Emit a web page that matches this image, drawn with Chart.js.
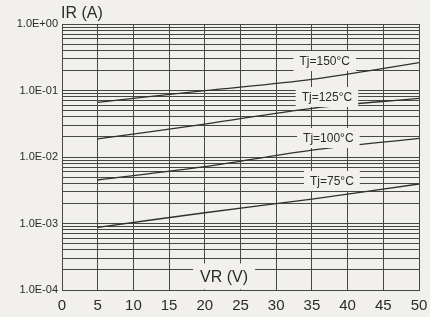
<!DOCTYPE html>
<html lang="en"><head><meta charset="UTF-8">
<title>IR vs VR</title>
<script src="https://cdn.jsdelivr.net/npm/chart.js"></script>
<style>
    html, body {
        margin: 0;
        padding: 0;
        background: #f1f0ec;
    }
    #wrap {
        width: 430px;
        height: 317px;
    }
</style>
</head>
<body>
<div id="wrap"><canvas id="chart" width="430" height="317"></canvas></div>
<script>
    // reverse voltage (V)
    const vr = [5, 20, 35, 50];
    // reverse current (A) per junction temperature
    const ir150 = [0.0665, 0.0993, 0.147, 0.262];
    const ir125 = [0.0187, 0.0313, 0.054, 0.0763];
    const ir100 = [0.00451, 0.00714, 0.0127, 0.0191];
    const ir75  = [0.000877, 0.00145, 0.00233, 0.00393];
    const seriesNames = ['Tj=150°C', 'Tj=125°C', 'Tj=100°C', 'Tj=75°C'];
    const xTicks = [0, 5, 10, 15, 20, 25, 30, 35, 40, 45, 50];
    const yDecades = [1e-4, 1e-3, 1e-2, 1e-1, 1];
    const yTickLabels = ['1.0E-04', '1.0E-03', '1.0E-02', '1.0E-01', '1.0E+00'];

    const ink = '#2b2b2b';
    const gridInk = '#474747';
    const paper = '#f1f0ec';

    // all 1..9 x 10^n lines
    let yGrid = [];
    yDecades.forEach((d, i) => {
        if (i === yDecades.length - 1) { yGrid.push(d); return; }
        for (let k = 1; k < 10; k++) yGrid.push(+(k * d).toPrecision(3));
    });

    function toData(ys) {
        return vr.map((x, i) => ({x: x, y: ys[i]}));
    }

    // where the curve labels sit (x in V, y in A)
    const labelSpots = [
        {text: seriesNames[0], x: 36.8, y: 0.278},
        {text: seriesNames[1], x: 37.1, y: 0.0798},
        {text: seriesNames[2], x: 37.3, y: 0.0193},
        {text: seriesNames[3], x: 37.8, y: 0.00436}
    ];

    const paperPlugin = {
        id: 'paper',
        beforeDraw(chart) {
            const ctx = chart.ctx;
            ctx.save();
            ctx.fillStyle = paper;
            ctx.fillRect(0, 0, chart.width, chart.height);
            ctx.restore();
        }
    };

    function boxedText(ctx, text, cx, cy, font, padX, h) {
        ctx.font = font;
        const w = ctx.measureText(text).width + padX * 2;
        ctx.fillStyle = paper;
        ctx.fillRect(cx - w / 2, cy - h / 2, w, h);
        ctx.fillStyle = ink;
        ctx.textAlign = 'center';
        ctx.textBaseline = 'middle';
        ctx.fillText(text, cx, cy + 1);
    }

    const labelPlugin = {
        id: 'curveLabels',
        afterDatasetsDraw(chart) {
            const ctx = chart.ctx;
            const xs = chart.scales.x, ys = chart.scales.y;
            ctx.save();
            labelSpots.forEach(s => {
                boxedText(ctx, s.text, xs.getPixelForValue(s.x), ys.getPixelForValue(s.y),
                    '12px "Liberation Sans", Arial, sans-serif', 6, 20);
            });
            boxedText(ctx, 'VR (V)', xs.getPixelForValue(22.7), ys.getPixelForValue(1.6e-4),
                '16px "Liberation Sans", Arial, sans-serif', 7, 26);
            // y axis title above the plot
            ctx.font = '16px "Liberation Sans", Arial, sans-serif';
            ctx.fillStyle = ink;
            ctx.textAlign = 'left';
            ctx.textBaseline = 'alphabetic';
            ctx.fillText('IR (A)', chart.chartArea.left - 1, 18);
            ctx.restore();
        }
    };

    const lineStyle = {
        borderColor: '#303030',
        borderWidth: 1.3,
        pointRadius: 0,
        fill: false,
        tension: 0.3
    };

    new Chart(document.getElementById('chart'), {
        type: 'line',
        data: {
            datasets: [
                Object.assign({label: seriesNames[0], data: toData(ir150)}, lineStyle),
                Object.assign({label: seriesNames[1], data: toData(ir125)}, lineStyle),
                Object.assign({label: seriesNames[2], data: toData(ir100)}, lineStyle),
                Object.assign({label: seriesNames[3], data: toData(ir75)}, lineStyle)
            ]
        },
        options: {
            responsive: false,
            animation: false,
            layout: {padding: {top: 24, right: 11, left: 0, bottom: 0}},
            plugins: {legend: {display: false}, tooltip: {enabled: false}},
            scales: {
                x: {
                    type: 'linear',
                    min: 0,
                    max: 50,
                    afterBuildTicks: s => { s.ticks = xTicks.map(v => ({value: v})); },
                    afterFit: s => { s.height = 27; s.paddingLeft = 0; s.paddingRight = 0; },
                    grid: {color: gridInk, lineWidth: 1, drawTicks: false},
                    border: {color: gridInk, width: 1},
                    ticks: {
                        color: ink,
                        padding: 7,
                        maxRotation: 0,
                        font: {family: '"Liberation Sans", Arial, sans-serif', size: 15}
                    }
                },
                y: {
                    type: 'logarithmic',
                    min: 1e-4,
                    max: 1,
                    afterBuildTicks: s => { s.ticks = yGrid.map(v => ({value: v})); },
                    afterFit: s => { s.width = 62; s.paddingTop = 0; s.paddingBottom = 0; },
                    grid: {color: gridInk, lineWidth: 1, drawTicks: false},
                    border: {color: gridInk, width: 1},
                    ticks: {
                        color: ink,
                        padding: 4,
                        autoSkip: false,
                        font: {family: '"Liberation Sans", Arial, sans-serif', size: 11},
                        callback: v => {
                            const i = yDecades.findIndex(d => Math.abs(d - v) / d < 1e-6);
                            return i >= 0 ? yTickLabels[i] : '';
                        }
                    }
                }
            }
        },
        plugins: [paperPlugin, labelPlugin]
    });
</script>
</body>
</html>
